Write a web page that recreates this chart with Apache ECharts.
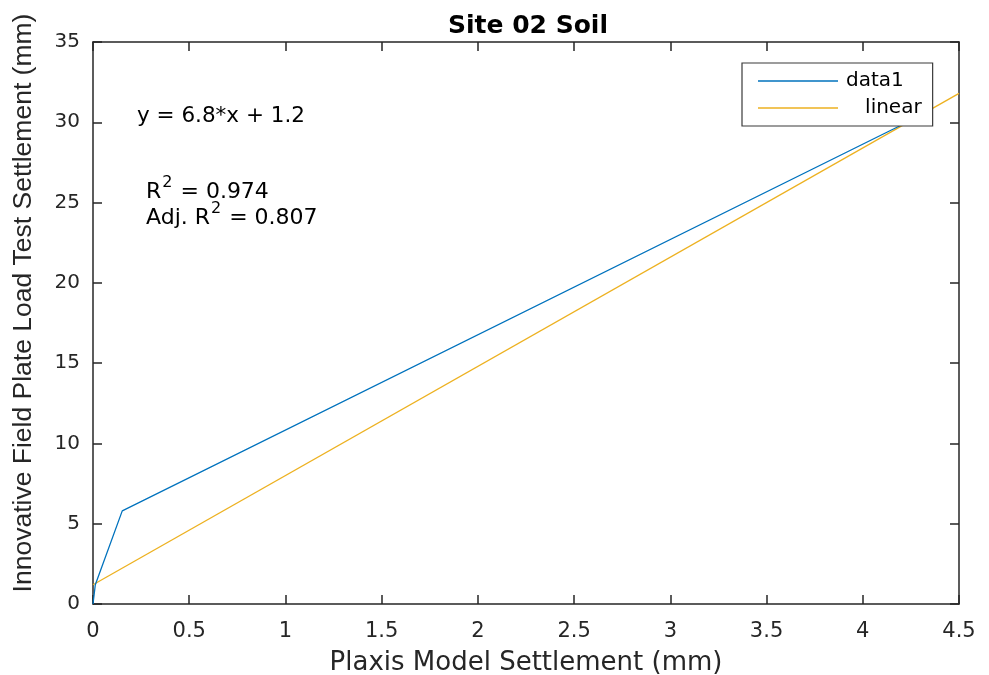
<!DOCTYPE html>
<html>
<head>
<meta charset="utf-8">
<script src="https://cdn.jsdelivr.net/npm/echarts@6/dist/echarts.min.js"></script>
<style>
html,body{margin:0;padding:0;background:#fff;}
#c{width:989px;height:675px;}
</style>
</head>
<body>
<div id="c"></div>
<script>
// Data
var data1X = [0, 0.012, 0.152, 4.28];
var data1Y = [0, 1.2, 5.8, 30.3];
var fitSlope = 6.8;
var fitIntercept = 1.2;
var fitX = [0, 4.5];
var xTicks = [0, 0.5, 1, 1.5, 2, 2.5, 3, 3.5, 4, 4.5];
var yTicks = [0, 5, 10, 15, 20, 25, 30, 35];
var titleText = 'Site 02 Soil';
var xName = 'Plaxis Model Settlement (mm)';
var yName = 'Innovative Field Plate Load Test Settlement (mm)';

var data1 = data1X.map(function (x, i) { return [x, data1Y[i]]; });
var linear = fitX.map(function (x) { return [x, +(fitSlope * x + fitIntercept).toFixed(4)]; });

var FONT = 'DejaVu Sans, Arial, sans-serif';
var FONT2 = 'Liberation Sans, Arial, sans-serif';
var axisCol = '#262626';

var chart = echarts.init(document.getElementById('c'), null, {renderer: 'canvas'});
function common() {
  return {
    axisLine: {show: true, onZero: false, lineStyle: {color: axisCol, width: 1.5}},
    axisTick: {show: true, inside: true, length: 9, lineStyle: {color: axisCol, width: 1.5}},
    splitLine: {show: false}
  };
}
var supRich = {
  n: {fontFamily: FONT, fontSize: 22, color: '#000', verticalAlign: 'bottom', lineHeight: 28},
  s: {fontFamily: FONT, fontSize: 16, color: '#000', verticalAlign: 'top', lineHeight: 28, padding: [0, 1, 0, 1]}
};
chart.setOption({
  animation: false,
  backgroundColor: '#fff',
  title: {
    text: titleText, left: 523, top: 9, textAlign: 'center',
    textStyle: {fontFamily: FONT, fontSize: 25, fontWeight: 'bold', color: '#000'}
  },
  grid: {left: 93, right: 30, top: 42, bottom: 71, containLabel: false, outerBoundsMode: 'none'},
  legend: {
    orient: 'vertical', left: 742, top: 63,
    padding: [8, 11, 8, 16], itemGap: 7,
    itemWidth: 80, itemHeight: 1.3,
    backgroundColor: '#fff', borderColor: '#3a3a3a', borderWidth: 1.2,
    textStyle: {fontFamily: FONT, fontSize: 20, lineHeight: 20, color: '#000', padding: [0, 0, 0, 3]},
    data: [
      {name: 'data1', icon: 'rect'},
      {name: 'linear', icon: 'rect'}
    ],
    formatter: function (n) { return n === 'linear' ? '   linear' : n; }
  },
  xAxis: [Object.assign({
    type: 'value', min: 0, max: 4.5, interval: 0.5, position: 'bottom',
    name: xName, nameLocation: 'middle', nameGap: 46,
    nameTextStyle: {fontFamily: FONT, fontSize: 26, color: axisCol},
    axisLabel: {fontFamily: FONT, fontSize: 21, color: axisCol, margin: 17,
      formatter: function (v) { return String(+v.toFixed(1)); }}
  }, common()), Object.assign({
    type: 'value', min: 0, max: 4.5, interval: 0.5, position: 'top',
    axisLabel: {show: false}
  }, common())],
  yAxis: [Object.assign({
    type: 'value', min: 0, max: 35, interval: 5, position: 'left',
    name: yName, nameLocation: 'middle', nameGap: 56, nameRotate: 90,
    nameTextStyle: {fontFamily: FONT2, fontSize: 26.5, color: axisCol, padding: [0, 0, 0, 40]},
    axisLabel: {fontFamily: FONT, fontSize: 20, color: axisCol, margin: 13}
  }, common()), Object.assign({
    type: 'value', min: 0, max: 35, interval: 5, position: 'right',
    axisLabel: {show: false}
  }, common())],
  series: [
    {name: 'data1', type: 'line', data: data1, symbol: 'none', z: 3,
      lineStyle: {color: '#0072BD', width: 1.3}, itemStyle: {color: '#0072BD'}},
    {name: 'linear', type: 'line', data: linear, symbol: 'none', z: 2,
      lineStyle: {color: '#EDB120', width: 1.3}, itemStyle: {color: '#EDB120'}}
  ],
  graphic: [
    {type: 'text', x: 137, y: 116, z: 10,
      style: {text: 'y = 6.8*x + 1.2', fontFamily: FONT, fontSize: 21.5, fill: '#000',
        verticalAlign: 'middle'}},
    {type: 'text', x: 146, y: 203, z: 10,
      style: {text: '{n|R}{s|2}{n| = 0.974}', verticalAlign: 'bottom', rich: supRich}},
    {type: 'text', x: 146, y: 229, z: 10,
      style: {text: '{n|Adj. R}{s|2}{n| = 0.807}', verticalAlign: 'bottom', rich: supRich}}
  ]
});
</script>
</body>
</html>
